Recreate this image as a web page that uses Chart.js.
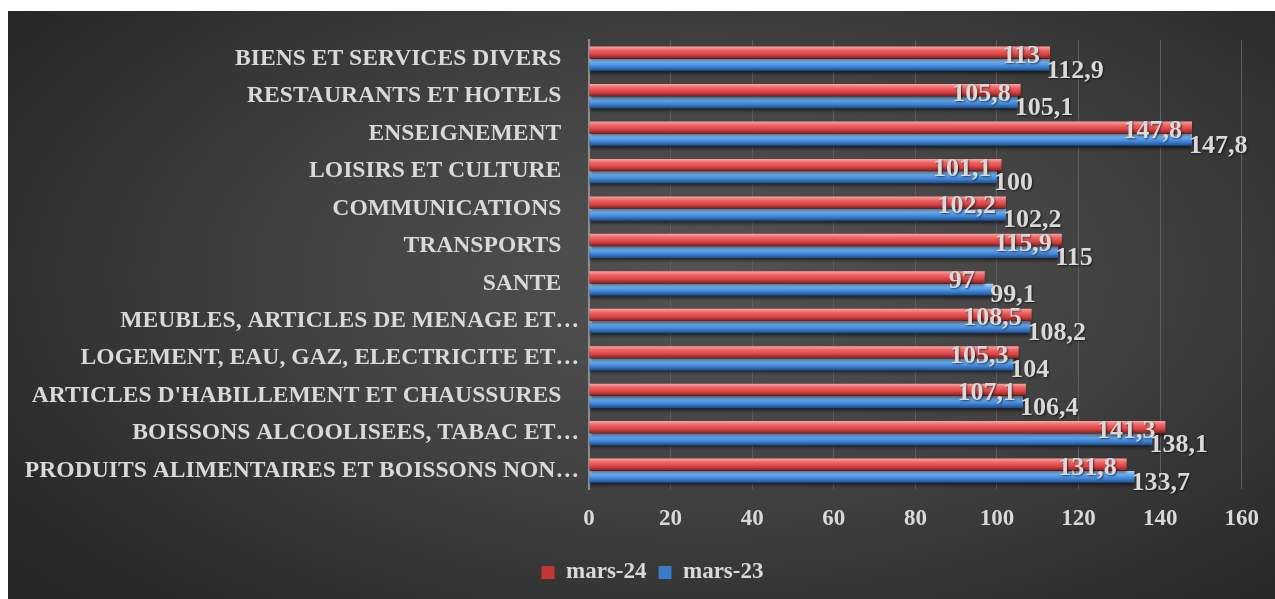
<!DOCTYPE html>
<html>
<head>
<meta charset="utf-8">
<script src="https://cdn.jsdelivr.net/npm/chart.js@4/dist/chart.umd.min.js"></script>
<style>
  html, body { margin: 0; padding: 0; background: #fff; }
  #box {
    position: absolute; left: 8px; top: 11px; width: 1267px; height: 588px;
    background: radial-gradient(ellipse 70% 80% at 55% 45%, #535353 0%, #424242 45%, #2c2c2c 85%, #262626 100%);
  }
</style>
</head>
<body>
<div id="box"><canvas id="chart"></canvas></div>
<script>
const categories = [
  "BIENS ET SERVICES DIVERS",
  "RESTAURANTS ET HOTELS",
  "ENSEIGNEMENT",
  "LOISIRS ET CULTURE",
  "COMMUNICATIONS",
  "TRANSPORTS",
  "SANTE",
  "MEUBLES, ARTICLES DE MENAGE ET…",
  "LOGEMENT, EAU, GAZ, ELECTRICITE ET…",
  "ARTICLES D'HABILLEMENT ET CHAUSSURES",
  "BOISSONS ALCOOLISEES, TABAC ET…",
  "PRODUITS ALIMENTAIRES ET BOISSONS NON…"
];
const mars24 = [113, 105.8, 147.8, 101.1, 102.2, 115.9, 97, 108.5, 105.3, 107.1, 141.3, 131.8];
const mars23 = [112.9, 105.1, 147.8, 100, 102.2, 115, 99.1, 108.2, 104, 106.4, 138.1, 133.7];
const xTicks = [0, 20, 40, 60, 80, 100, 120, 140, 160];

const FONT = "'Liberation Serif', 'Times New Roman', serif";
const TXT = '#d9d9d9';

// cylinder-like shading, built per bar from the element's own geometry
const shades = [
  ['#f9a4a4', '#f06868', '#db4444', '#8c2221'],
  ['#acd6ff', '#68aef2', '#3d83d6', '#1f4d8c']
];

const barLook = {
  id: 'barLook',
  afterLayout(chart) {
    // legend sits a little right of the canvas centre in the original
    chart.legend.left += 21;
    chart.legend.right += 21;
  },
  beforeDatasetsDraw(chart) {
    const ctx = chart.ctx;
    chart.data.datasets.forEach((ds, di) => {
      chart.getDatasetMeta(di).data.forEach(el => {
        const top = el.y - el.height / 2;
        const g = ctx.createLinearGradient(0, top, 0, top + el.height);
        const s = shades[di];
        g.addColorStop(0, s[0]);
        g.addColorStop(0.3, s[1]);
        g.addColorStop(0.65, s[2]);
        g.addColorStop(1, s[3]);
        el.options = Object.assign({}, el.options, { backgroundColor: g });
      });
    });
  },
  beforeDatasetDraw(chart) {
    const ctx = chart.ctx;
    ctx.save();
    ctx.shadowColor = 'rgba(0,0,0,0.55)';
    ctx.shadowBlur = 3;
    ctx.shadowOffsetY = 3;
  },
  afterDatasetDraw(chart) {
    chart.ctx.restore();
  }
};

const valueLabels = {
  id: 'valueLabels',
  afterDatasetsDraw(chart) {
    const ctx = chart.ctx;
    ctx.save();
    ctx.font = 'bold 26px ' + FONT;
    ctx.fillStyle = TXT;
    ctx.textBaseline = 'middle';
    ctx.shadowColor = 'rgba(0,0,0,0.6)';
    ctx.shadowBlur = 2;
    ctx.shadowOffsetX = 1;
    ctx.shadowOffsetY = 1;
    chart.data.datasets.forEach((ds, di) => {
      chart.getDatasetMeta(di).data.forEach((el, i) => {
        const txt = String(ds.data[i]).replace('.', ',');
        if (di === 0) {
          ctx.textAlign = 'right';
          ctx.fillText(txt, el.x - 10, el.y + 4);
        } else {
          ctx.textAlign = 'left';
          ctx.fillText(txt, el.x - 3, el.y + 6);
        }
      });
    });
    ctx.restore();
  }
};

new Chart(document.getElementById('chart'), {
  type: 'bar',
  data: {
    labels: categories,
    datasets: [
      { label: 'mars-24', data: mars24, backgroundColor: '#c23636',
        categoryPercentage: 0.66, barPercentage: 0.96, borderWidth: 0 },
      { label: 'mars-23', data: mars23, backgroundColor: '#3a7bc8',
        categoryPercentage: 0.66, barPercentage: 0.96, borderWidth: 0 }
    ]
  },
  options: {
    indexAxis: 'y',
    responsive: true,
    maintainAspectRatio: false,
    animation: false,
    layout: { padding: { left: 0, right: 20, top: 29, bottom: 5 } },
    scales: {
      x: {
        min: 0,
        max: 160,
        afterBuildTicks: s => { s.ticks = xTicks.map(v => ({ value: v })); },
        grid: { color: '#5e5e5e', lineWidth: 1, drawTicks: false },
        border: { display: false },
        ticks: { color: TXT, font: { family: FONT, size: 23, weight: 'bold' }, padding: 16 }
      },
      y: {
        afterFit: s => { s.width = 581; },
        grid: { display: false },
        border: { display: true, color: '#8e8e8e', width: 2 },
        ticks: {
          color: TXT,
          font: { family: FONT, size: 23.6, weight: 'bold' },
          padding: 2,
          autoSkip: false,
          callback: function(v) {
            const l = this.getLabelForValue(v);
            return l.endsWith('…') ? l : l + '   ';
          }
        }
      }
    },
    plugins: {
      legend: {
        position: 'bottom',
        labels: {
          color: TXT,
          font: { family: FONT, size: 23, weight: 'bold' },
          boxWidth: 13,
          boxHeight: 13,
          padding: 12
        }
      },
      tooltip: { enabled: false }
    }
  },
  plugins: [barLook, valueLabels]
});
</script>
</body>
</html>
